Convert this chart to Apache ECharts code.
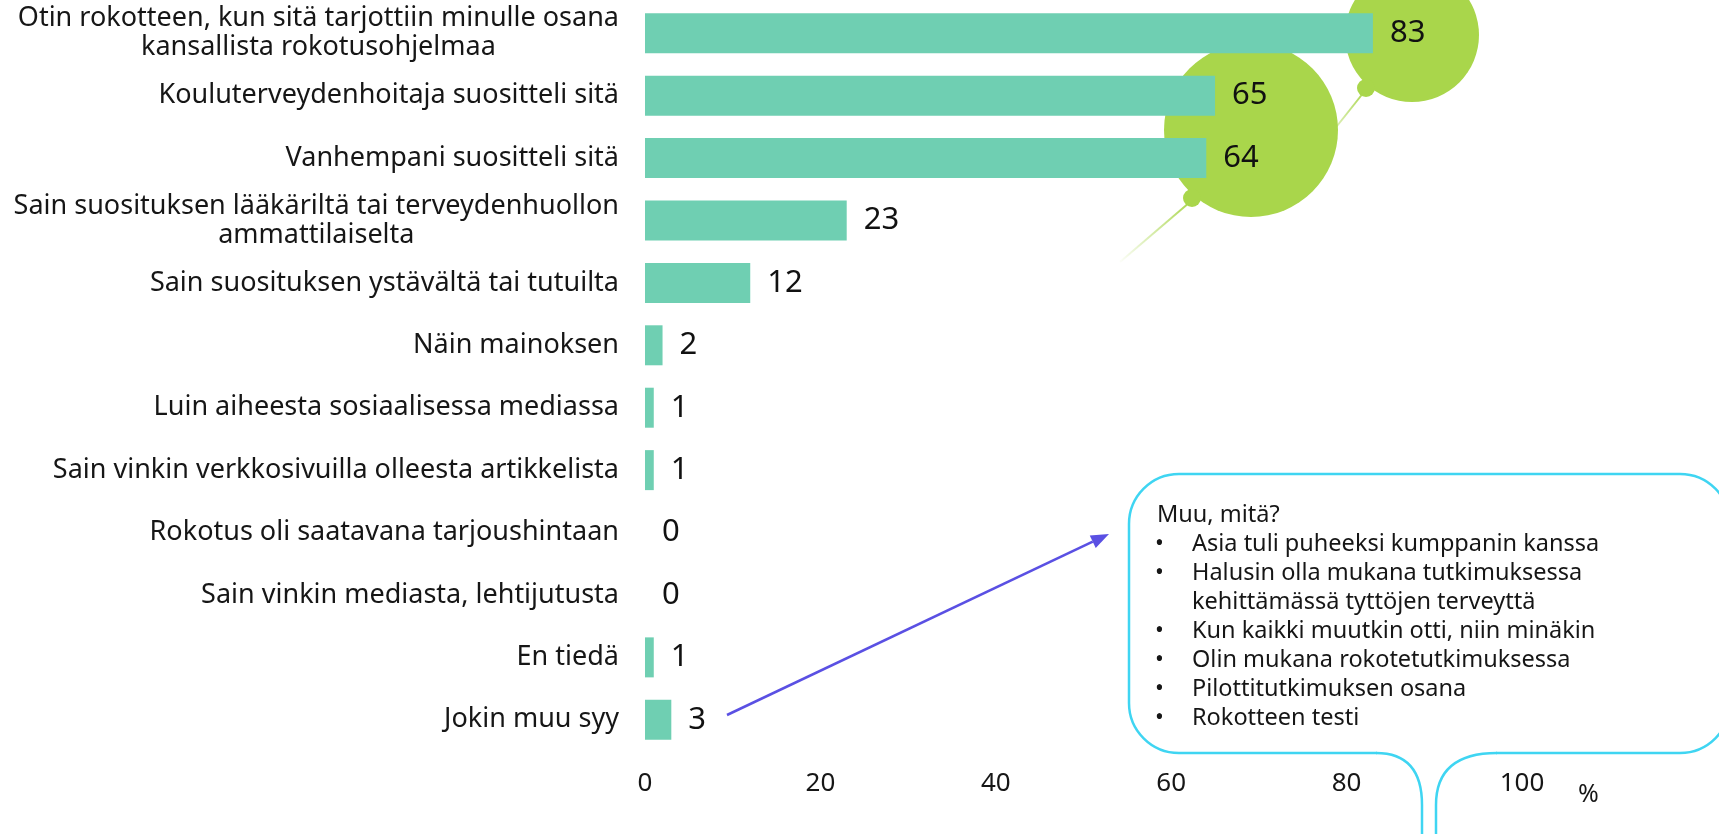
<!DOCTYPE html>
<html>
<head>
<meta charset="utf-8">
<script src="https://cdn.jsdelivr.net/npm/echarts@6/dist/echarts.min.js"></script>
<style>
  html, body { margin: 0; padding: 0; background: #fff; }
  #chart { width: 1719px; height: 834px; }
</style>
</head>
<body>
<div id="chart"></div>
<script>
// data
const categories = [
  'Otin rokotteen, kun sitä tarjottiin minulle osana\nkansallista rokotusohjelmaa',
  'Kouluterveydenhoitaja suositteli sitä',
  'Vanhempani suositteli sitä',
  'Sain suosituksen lääkäriltä tai terveydenhuollon\nammattilaiselta',
  'Sain suosituksen ystävältä tai tutuilta',
  'Näin mainoksen',
  'Luin aiheesta sosiaalisessa mediassa',
  'Sain vinkin verkkosivuilla olleesta artikkelista',
  'Rokotus oli saatavana tarjoushintaan',
  'Sain vinkin mediasta, lehtijutusta',
  'En tiedä',
  'Jokin muu syy'
]
const values = [83, 65, 64, 23, 12, 2, 1, 1, 0, 0, 1, 3]
const xMin = 0
const xMax = 100
const xStep = 20
const unitLabel = '%'
const otherTitle = 'Muu, mitä?'
const otherItems = [
  ['Asia tuli puheeksi kumppanin kanssa'],
  ['Halusin olla mukana tutkimuksessa', 'kehittämässä tyttöjen terveyttä'],
  ['Kun kaikki muutkin otti, niin minäkin'],
  ['Olin mukana rokotetutkimuksessa'],
  ['Pilottitutkimuksen osana'],
  ['Rokotteen testi']
]

const FONT = 'Noto Sans'
const green = '#a9d64b'
const cyan = '#3fd5f2'
const ink = '#161616'
const chart = echarts.init(document.getElementById('chart'))

function fade() {
  return new echarts.graphic.LinearGradient(1, 0, 0, 1, [
    { offset: 0, color: green }, { offset: 1, color: 'rgba(169,214,75,0)' }])
}

// decoration: green blobs behind the top bars
const blobs = [
  { type: 'circle', shape: { cx: 1412, cy: 35, r: 67 }, style: { fill: green }, z: 0 },
  { type: 'circle', shape: { cx: 1251, cy: 130, r: 87 }, style: { fill: green }, z: 0 },
  { type: 'circle', shape: { cx: 1366, cy: 88, r: 9 }, style: { fill: green }, z: 0 },
  { type: 'circle', shape: { cx: 1192, cy: 198, r: 9 }, style: { fill: green }, z: 0 },
  { type: 'line', z: 0, shape: { x1: 1364, y1: 92, x2: 1318, y2: 150 },
    style: { lineWidth: 2, stroke: fade() } },
  { type: 'line', z: 0, shape: { x1: 1190, y1: 202, x2: 1120, y2: 262 },
    style: { lineWidth: 2, stroke: fade() } }
]

// speech bubble for "other" answers
const bubbleStroke = { fill: null, stroke: cyan, lineWidth: 2.5 }
function txtStyle(t, size) {
  return { text: t, fontSize: size, fontFamily: FONT, fill: ink, verticalAlign: 'middle' }
}
const bubble = [
  { type: 'rect', z: 1, shape: { x: 1129, y: 474, width: 601, height: 279, r: 50 }, style: bubbleStroke },
  { type: 'rect', z: 1, shape: { x: 1377, y: 749, width: 119, height: 8 }, style: { fill: '#fff' } },
  { type: 'bezierCurve', z: 1, shape: { x1: 1376, y1: 753, cpx1: 1422, cpy1: 753, x2: 1422, y2: 805 }, style: bubbleStroke },
  { type: 'bezierCurve', z: 1, shape: { x1: 1497, y1: 753, cpx1: 1436, cpy1: 753, x2: 1436, y2: 805 }, style: bubbleStroke },
  { type: 'line', z: 1, shape: { x1: 1422, y1: 805, x2: 1422, y2: 840 }, style: bubbleStroke },
  { type: 'line', z: 1, shape: { x1: 1436, y1: 805, x2: 1436, y2: 840 }, style: bubbleStroke },
  { type: 'text', z: 3, x: 1157, y: 515, style: txtStyle(otherTitle, 23.5) }
]
let lineY = 515
otherItems.forEach(function (item) {
  item.forEach(function (txt, i) {
    lineY += 29
    if (i === 0) {
      bubble.push({ type: 'text', z: 3, x: 1155, y: lineY, style: txtStyle('•', 23.5) })
    }
    bubble.push({ type: 'text', z: 3, x: 1192, y: lineY, style: txtStyle(txt, 23.5) })
  })
})

// arrow from "Jokin muu syy" to the bubble
const a0 = [727, 715], a1 = [1109, 534]
const dx = a1[0] - a0[0], dy = a1[1] - a0[1]
const len = Math.sqrt(dx * dx + dy * dy)
const ux = dx / len, uy = dy / len
const hl = 18, hw = 7
const base = [a1[0] - ux * hl, a1[1] - uy * hl]
const arrow = [
  { type: 'line', z: 3, shape: { x1: a0[0], y1: a0[1], x2: base[0], y2: base[1] },
    style: { stroke: '#5a50e3', lineWidth: 2.5 } },
  { type: 'polygon', z: 3,
    shape: { points: [a1, [base[0] - uy * hw, base[1] + ux * hw], [base[0] + uy * hw, base[1] - ux * hw]] },
    style: { fill: '#5a50e3' } }
]

const unit = [
  { type: 'text', z: 3, x: 1578, y: 795, style: txtStyle(unitLabel, 25) }
]

const option = {
  animation: false,
  textStyle: { fontFamily: FONT },
  grid: { left: 645, right: 197, top: 2, bottom: 83 },
  xAxis: {
    type: 'value',
    min: xMin,
    max: xMax,
    interval: xStep,
    axisLine: { show: false },
    axisTick: { show: false },
    splitLine: { show: false },
    axisLabel: { margin: 20, fontSize: 26, color: ink, fontFamily: FONT }
  },
  yAxis: {
    type: 'category',
    inverse: true,
    data: categories,
    axisLine: { show: false },
    axisTick: { show: false },
    axisLabel: {
      margin: 26,
      formatter: function (v) { return '{a|' + v.split('\n').join('}\n{a|') + '}' },
      rich: { a: { fontSize: 27, lineHeight: 29, color: ink, align: 'center', fontFamily: FONT } }
    }
  },
  series: [{
    type: 'bar',
    data: values,
    barWidth: 40,
    z: 2,
    itemStyle: { color: '#6fcfb2' },
    label: {
      show: true,
      position: 'right',
      distance: 17,
      fontSize: 31,
      color: '#111',
      fontFamily: FONT
    }
  }],
  graphic: blobs.concat(bubble, arrow, unit)
}
chart.setOption(option)
</script>
</body>
</html>
